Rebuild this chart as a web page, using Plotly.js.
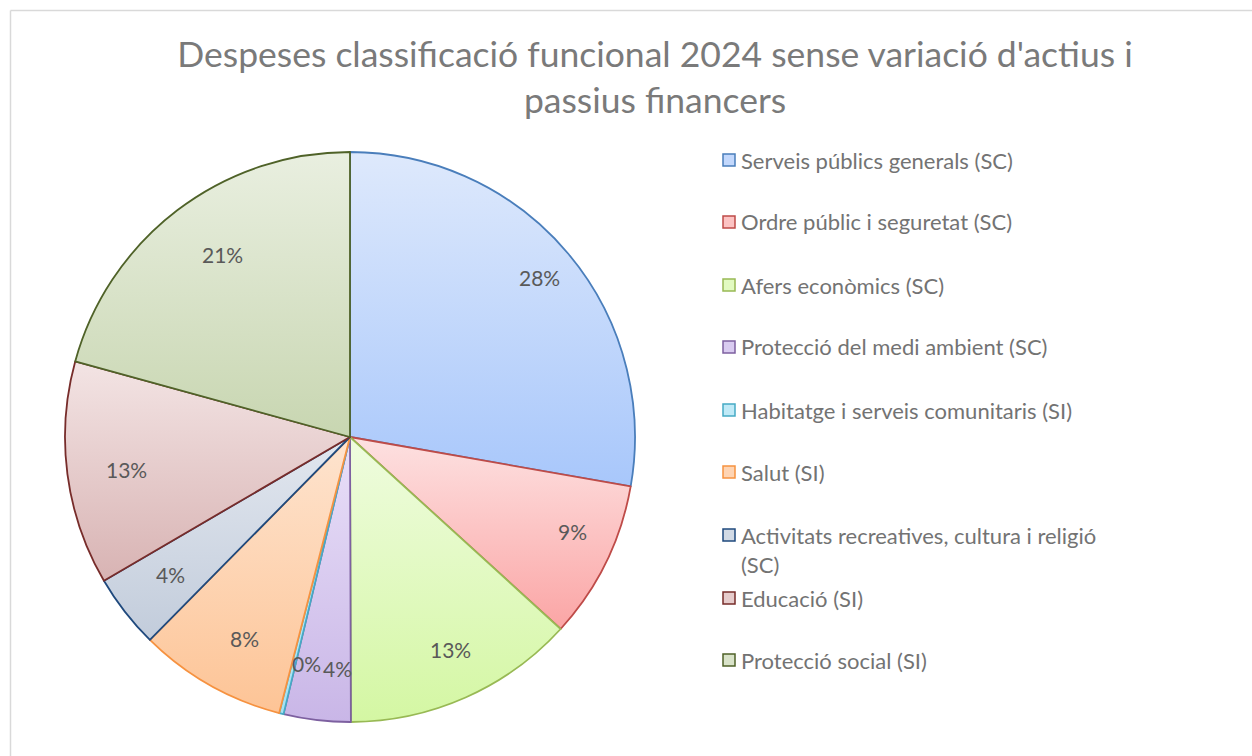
<!DOCTYPE html>
<html>
<head>
<meta charset="utf-8">
<script src="https://cdn.plot.ly/plotly-3.0.1.min.js"></script>
<style>
	html, body { margin: 0; padding: 0; background: #fff; }
	#chart { width: 1252px; height: 756px; }
</style>
</head>
<body>
<div id="chart"></div>
<script>
// share of each function in total spending (%)
var labels = [
	'Serveis públics generals (SC)',
	'Ordre públic i seguretat (SC)',
	'Afers econòmics (SC)',
	'Protecció del medi ambient (SC)',
	'Habitatge i serveis comunitaris (SI)',
	'Salut (SI)',
	'Activitats recreatives, cultura i religió<br>(SC)',
	'Educació (SI)',
	'Protecció social (SI)'
];
var shares = [27.8, 9.0, 13.2, 3.8, 0.25, 8.4, 4.2, 12.7, 20.75];

// Excel style fills: light top, darker bottom, plus outline colour
var topColors = ['#dee9fc', '#fde1e1', '#effcdf', '#e9e0f8', '#dcf3fa', '#fee4cf', '#e2e7ef', '#f3e4e4', '#e9efe0'];
var botColors = ['#a8c7fb', '#fba5a5', '#d4f7a3', '#c9b6e7', '#a3e1f3', '#fdc496', '#c2ccdb', '#d8b3b3', '#c8d6b1'];
var lineColors = ['#4a7ebb', '#be4b48', '#98b954', '#7d60a0', '#46aac5', '#f69240', '#1f497d', '#772c2a', '#4f6228'];

function midColor(a, b){
	var r = Math.round((parseInt(a.substr(1,2),16) + parseInt(b.substr(1,2),16)) / 2);
	var g = Math.round((parseInt(a.substr(3,2),16) + parseInt(b.substr(3,2),16)) / 2);
	var bl = Math.round((parseInt(a.substr(5,2),16) + parseInt(b.substr(5,2),16)) / 2);
	return 'rgb(' + r + ',' + g + ',' + bl + ')';
}

var W = 1252, H = 756;
var cx = 350, cy = 437, R = 285;

var fills = [];
for(var i = 0; i < labels.length; i++){
	fills.push(midColor(topColors[i], botColors[i]));
}

var trace = {
	type: 'pie',
	labels: labels,
	values: shares,
	sort: false,
	direction: 'clockwise',
	rotation: 0,
	textinfo: 'none',
	hoverinfo: 'label+percent',
	marker: { colors: fills, line: { color: lineColors, width: 1.8 } },
	domain: { x: [(cx - R) / W, (cx + R) / W], y: [(H - cy - R) / H, (H - cy + R) / H] },
	showlegend: false
};

// percentage labels placed near the rim like Excel's best fit
var annotations = [];
var total = 0;
for(var i = 0; i < shares.length; i++) total += shares[i];
var cum = 0;
for(var i = 0; i < shares.length; i++){
	var mid = (cum + shares[i] / 2) / total * 2 * Math.PI;
	cum += shares[i];
	var rr = 0.87 * R;
	annotations.push({
		xref: 'paper', yref: 'paper',
		x: (cx + rr * Math.sin(mid)) / W,
		y: (H - cy + rr * Math.cos(mid)) / H,
		text: Math.round(shares[i] / total * 100) + '%',
		showarrow: false,
		font: { family: 'Lato, sans-serif', size: 21, color: '#595959' }
	});
}

// legend drawn by hand to keep Excel's wide row spacing
var legendY = [160, 222, 285, 347, 410, 472, 535, 598, 660];
var shapes = [
	{ type: 'line', xref: 'paper', yref: 'paper', x0: 10.5 / W, x1: 1, y0: 1 - 10.5 / H, y1: 1 - 10.5 / H, line: { color: '#d9d9d9', width: 1.5 } },
	{ type: 'line', xref: 'paper', yref: 'paper', x0: 10.5 / W, x1: 10.5 / W, y0: 0, y1: 1 - 10.5 / H, line: { color: '#d9d9d9', width: 1.5 } }
];
for(var i = 0; i < labels.length; i++){
	var ly = legendY[i];
	var twoLines = labels[i].indexOf('<br>') >= 0;
	shapes.push({
		type: 'rect', xref: 'paper', yref: 'paper',
		x0: 723 / W, x1: 735 / W, y0: (H - ly - 6) / H, y1: (H - ly + 6) / H,
		fillcolor: fills[i], line: { color: lineColors[i], width: 1.5 }
	});
	annotations.push({
		xref: 'paper', yref: 'paper',
		x: 739 / W, y: (H - ly) / H,
		xanchor: 'left', yanchor: twoLines ? 'top' : 'middle',
		yshift: twoLines ? 15 : 0,
		align: 'left',
		text: labels[i],
		showarrow: false,
		font: { family: 'Lato, sans-serif', size: 22, color: '#737373' }
	});
}

var layout = {
	width: W, height: H,
	margin: { l: 0, r: 0, t: 0, b: 0 },
	paper_bgcolor: '#ffffff',
	title: {
		text: "Despeses classificació funcional 2024 sense variació d'actius i<br>passius financers",
		x: 655 / W, xanchor: 'center', y: 1 - 67 / H, yanchor: 'middle',
		font: { family: 'Lato, sans-serif', size: 35.5, color: '#7a7a7a' }
	},
	shapes: shapes,
	annotations: annotations
};

Plotly.newPlot('chart', [trace], layout, { staticPlot: true }).then(function(gd){
	// swap flat fills for vertical gradients per slice
	var svg = gd.querySelector('svg.main-svg');
	var ns = 'http://www.w3.org/2000/svg';
	var defs = svg.querySelector('defs') || svg.insertBefore(document.createElementNS(ns, 'defs'), svg.firstChild);
	var paths = gd.querySelectorAll('g.slice path.surface');
	for(var i = 0; i < paths.length; i++){
		var g = document.createElementNS(ns, 'linearGradient');
		g.setAttribute('id', 'sliceGrad' + i);
		g.setAttribute('x1', '0'); g.setAttribute('y1', '0');
		g.setAttribute('x2', '0'); g.setAttribute('y2', '1');
		var s0 = document.createElementNS(ns, 'stop');
		s0.setAttribute('offset', '0'); s0.setAttribute('stop-color', topColors[i]);
		var s1 = document.createElementNS(ns, 'stop');
		s1.setAttribute('offset', '1'); s1.setAttribute('stop-color', botColors[i]);
		g.appendChild(s0); g.appendChild(s1);
		defs.appendChild(g);
		paths[i].style.fill = 'url(#sliceGrad' + i + ')';
	}
});
</script>
</body>
</html>
